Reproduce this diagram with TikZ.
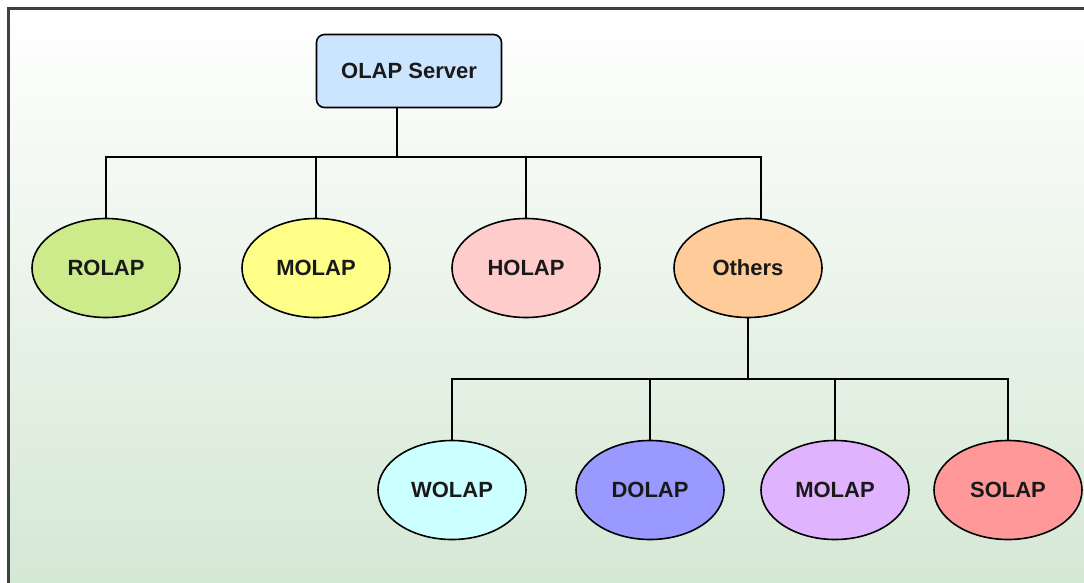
\documentclass[tikz,border=0pt]{standalone}
\usepackage{fontspec}
\setmainfont{Liberation Sans}
\usetikzlibrary{shapes.geometric}
\definecolor{bgbot}{HTML}{D5E8D4}
\definecolor{cserver}{HTML}{CCE5FF}
\definecolor{crolap}{HTML}{CDEB8B}
\definecolor{cmolap}{HTML}{FFFF88}
\definecolor{cholap}{HTML}{FFCCCC}
\definecolor{cothers}{HTML}{FFCC99}
\definecolor{cwolap}{HTML}{CCFFFF}
\definecolor{cdolap}{HTML}{9999FF}
\definecolor{cmolapb}{HTML}{E0B3FF}
\definecolor{csolap}{HTML}{FF9999}
\tikzset{
  lbl/.style={font=\fontsize{22}{26}\selectfont\bfseries, text=black!90},
  oval/.style={ellipse, draw=black, line width=1.6pt, minimum width=148pt, minimum height=99pt, inner sep=0pt, lbl},
  srv/.style={rectangle, rounded corners=8pt, draw=black, line width=1.6pt, minimum width=185pt, minimum height=73pt, lbl},
  wire/.style={line width=1.6pt, draw=black}
}
\begin{document}
\begin{tikzpicture}[x=1pt,y=-1pt]
\useasboundingbox (0,0) rectangle (1084,583);
\shade[top color=white, bottom color=bgbot] (9,10) rectangle (1084,583);
\draw[line width=3pt, draw=black!75] (8,583) -- (8,9) -- (1084,9);
% nodes
\node[srv, fill=cserver] (srv) at (409,71) {OLAP Server};
\node[oval, fill=crolap] (rolap) at (106,268) {ROLAP};
\node[oval, fill=cmolap] (molap) at (316,268) {MOLAP};
\node[oval, fill=cholap] (holap) at (526,268) {HOLAP};
\node[oval, fill=cothers] (others) at (748,268) {Others};
\node[oval, fill=cwolap] (wolap) at (452,490) {WOLAP};
\node[oval, fill=cdolap] (dolap) at (650,490) {DOLAP};
\node[oval, fill=cmolapb] (molapb) at (835,490) {MOLAP};
\node[oval, fill=csolap] (solap) at (1008,490) {SOLAP};
% tree connectors
\coordinate (j1) at (397,157);
\draw[wire] (srv.south -| j1) -- (j1);
\draw[wire] (rolap.north) |- (j1);
\draw[wire] (molap.north) -- (molap.north |- j1);
\draw[wire] (holap.north) -- (holap.north |- j1);
\coordinate (otop) at (761,219.5);
\draw[wire] (otop) |- (j1);
\coordinate (j2) at (748,379);
\draw[wire] (others.south) -- (j2);
\draw[wire] (wolap.north) |- (j2);
\draw[wire] (dolap.north) -- (dolap.north |- j2);
\draw[wire] (molapb.north) -- (molapb.north |- j2);
\draw[wire] (solap.north) |- (j2);
\end{tikzpicture}
\end{document}
